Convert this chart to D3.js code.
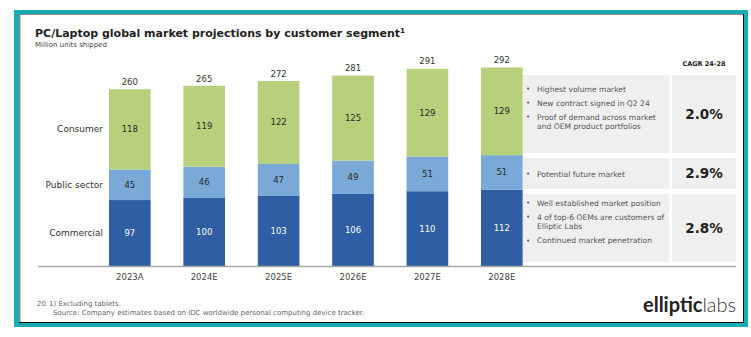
<!DOCTYPE html>
<html>
<head>
<meta charset="utf-8">
<script src="https://cdn.jsdelivr.net/npm/d3@7"></script>
<style>
  body { margin: 0; background: #fff; }
  svg { display: block; }
  text { font-family: "DejaVu Sans", sans-serif; }
</style>
</head>
<body>
<svg id="chart" width="751" height="337"></svg>
<script>
// Shipments by segment, million units
const years = ['2023A', '2024E', '2025E', '2026E', '2027E', '2028E'];
const commercial = [97, 100, 103, 106, 110, 112];
const publicSector = [45, 46, 47, 49, 51, 51];
const consumer = [118, 119, 122, 125, 129, 129];
const totals = [260, 265, 272, 281, 291, 292];

const segmentNames = ['Commercial', 'Public sector', 'Consumer'];
const cagr = ['2.8%', '2.9%', '2.0%'];
const notes = [
  [['Well established market position'], ['4 of top-6 OEMs are customers of', 'Elliptic Labs'], ['Continued market penetration']],
  [['Potential future market']],
  [['Highest volume market'], ['New contract signed in Q2 24'], ['Proof of demand across market', 'and OEM product portfolios']]
];

const colors = ['#2f5ea5', '#7aa8d7', '#b6d07b'];
const labelColors = ['#ffffff', '#2a2a2a', '#2a2a2a'];

const svg = d3.select('#chart');

// frame
svg.append('rect').attr('x', 14).attr('y', 10).attr('width', 734).attr('height', 317).attr('fill', '#17acb1');
svg.append('rect').attr('x', 19).attr('y', 14).attr('width', 725).attr('height', 309).attr('fill', '#111');
svg.append('rect').attr('x', 19).attr('y', 14).attr('width', 724).attr('height', 308).attr('fill', '#8a8a8a');
svg.append('rect').attr('x', 20.5).attr('y', 15).attr('width', 722.5).attr('height', 307).attr('fill', '#fff');

// titles
const title = svg.append('text').attr('x', 35).attr('y', 37)
  .attr('font-size', 11).attr('font-weight', 700).attr('fill', '#222');
title.append('tspan').text('PC/Laptop global market projections by customer segment');
title.append('tspan').attr('font-size', 7).attr('dy', -4).text('1');
svg.append('text').attr('x', 35).attr('y', 47)
  .attr('font-size', 7).attr('fill', '#444').text('Million units shipped');

// scales
const x = d3.scaleBand().domain(years).range([92.6, 539]).paddingInner(0.44).paddingOuter(0.22);
const y = d3.scaleLinear().domain([0, 300]).range([266, 62]);

const rows = years.map((yr, i) => ({
  year: yr, 'Commercial': commercial[i], 'Public sector': publicSector[i], 'Consumer': consumer[i], total: totals[i]
}));
const stacked = d3.stack().keys(segmentNames)(rows);

const layers = svg.append('g').selectAll('g')
  .data(stacked)
  .join('g')
  .attr('fill', (d, i) => colors[i]);

layers.selectAll('rect')
  .data(d => d)
  .join('rect')
  .attr('x', d => x(d.data.year))
  .attr('width', x.bandwidth())
  .attr('y', d => y(d[1]))
  .attr('height', d => y(d[0]) - y(d[1]));

// values inside segments
stacked.forEach((layer, li) => {
  svg.append('g').selectAll('text')
    .data(layer)
    .join('text')
    .attr('x', d => x(d.data.year) + x.bandwidth() / 2)
    .attr('y', d => (y(d[0]) + y(d[1])) / 2)
    .attr('dy', '0.35em')
    .attr('text-anchor', 'middle')
    .attr('font-size', 8.5)
    .attr('fill', labelColors[li])
    .text(d => d.data[layer.key]);
});

// totals above bars
svg.append('g').selectAll('text')
  .data(rows)
  .join('text')
  .attr('x', d => x(d.year) + x.bandwidth() / 2)
  .attr('y', d => y(d.total) - 4)
  .attr('text-anchor', 'middle')
  .attr('font-size', 8.5)
  .attr('fill', '#333')
  .text(d => d.total);

// segment names, centred on the first bar's segments
svg.append('g').selectAll('text')
  .data(stacked)
  .join('text')
  .attr('x', 103)
  .attr('y', d => (y(d[0][0]) + y(d[0][1])) / 2)
  .attr('dy', '0.35em')
  .attr('text-anchor', 'end')
  .attr('font-size', 9)
  .attr('fill', '#333')
  .text(d => d.key);

// baseline
svg.append('line').attr('x1', 38).attr('x2', 736).attr('y1', 266.5).attr('y2', 266.5)
  .attr('stroke', '#a6a6a6').attr('stroke-width', 1.5);

const xAxis = svg.append('g').attr('transform', 'translate(0,267)')
  .call(d3.axisBottom(x).tickSize(0).tickPadding(7));
xAxis.select('.domain').remove();
xAxis.selectAll('text').attr('font-size', 8.5).attr('fill', '#444')
  .attr('font-family', '"DejaVu Sans", sans-serif');

// side panel: notes and growth rates per segment
const panel = [
  { top: 194, bottom: 262, first: 203 },
  { top: 158, bottom: 189, first: 174 },
  { top: 75, bottom: 153, first: 89 }
];

svg.append('text').attr('x', 704).attr('y', 66).attr('text-anchor', 'middle')
  .attr('font-size', 6.5).attr('font-weight', 700).attr('fill', '#222').text('CAGR 24-28');

panel.forEach((p, i) => {
  svg.append('rect').attr('x', 523).attr('y', p.top).attr('width', 146).attr('height', p.bottom - p.top).attr('fill', '#efefef');
  svg.append('rect').attr('x', 672).attr('y', p.top).attr('width', 64).attr('height', p.bottom - p.top).attr('fill', '#efefef');
  svg.append('text').attr('x', 704).attr('y', (p.top + p.bottom) / 2).attr('dy', '0.35em')
    .attr('text-anchor', 'middle').attr('font-size', 13.5).attr('font-weight', 700).attr('fill', '#222')
    .text(cagr[i]);

  let ly = p.first;
  notes[i].forEach(item => {
    svg.append('text').attr('x', 526).attr('y', ly).attr('dy', '0.35em')
      .attr('font-size', 7).attr('fill', '#555').text('•');
    item.forEach((line, k) => {
      svg.append('text').attr('x', 537).attr('y', ly + k * 9.5).attr('dy', '0.35em')
        .attr('font-size', 7.6).attr('fill', '#555').text(line);
    });
    ly += (item.length - 1) * 9.5 + 14;
  });
});

// footnotes
svg.append('text').attr('x', 37).attr('y', 306).attr('font-size', 7).attr('fill', '#666').text('20');
svg.append('text').attr('x', 49).attr('y', 306).attr('font-size', 7).attr('fill', '#666').text('1) Excluding tablets.');
svg.append('text').attr('x', 53).attr('y', 314.5).attr('font-size', 7).attr('fill', '#666')
  .text('Source: Company estimates based on IDC worldwide personal computing device tracker.');

// logo
const logo = svg.append('text').attr('x', 643).attr('y', 312).attr('font-size', 20).attr('fill', '#222')
  .style('font-family', 'Lato, sans-serif');
logo.append('tspan').attr('font-weight', 700).text('elliptic');
logo.append('tspan').attr('font-weight', 300).attr('fill', '#333').text('labs');
</script>
</body>
</html>
